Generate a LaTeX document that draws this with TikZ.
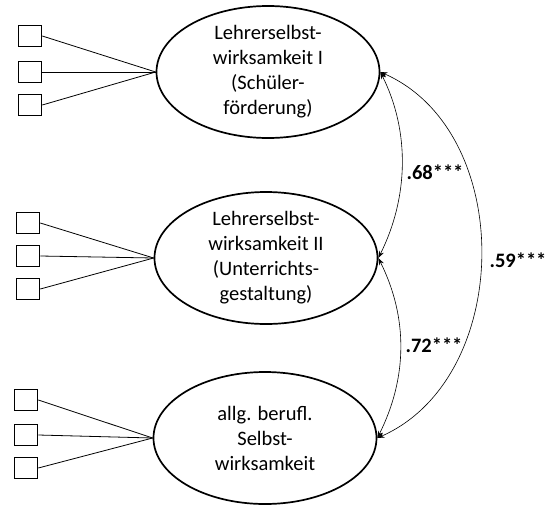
\documentclass[tikz,border=0pt]{standalone}
\usepackage{fontspec}
\setmainfont{Carlito}
\usetikzlibrary{arrows.meta,positioning,shapes.geometric}

\begin{document}
\begin{tikzpicture}[x=1pt,y=-1pt,
    latent/.style={ellipse,draw,line width=1.7pt,minimum width=223pt,minimum height=132pt,inner sep=0pt,align=center,font=\fontsize{20.5}{25}\selectfont},
    item/.style={rectangle,draw,line width=1.6pt,minimum width=23pt,minimum height=21pt,inner sep=0pt},
    load/.style={line width=0.8pt},
    corr/.style={<->,>={Stealth[length=7pt,width=5pt]},line width=0.6pt},
    coef/.style={font=\fontsize{20.5}{24}\selectfont\bfseries}]

  \useasboundingbox (0,0) rectangle (546,504);

  \node[latent] (eins) at (268,72) {Lehrerselbst-\\wirksamkeit I\\(Schüler-\\förderung)};
  \node[latent] (zwei) at (266,258) {Lehrerselbst-\\wirksamkeit II\\(Unterrichts-\\gestaltung)};
  \node[latent] (drei) at (265,438) {allg. berufl.\\Selbst-\\wirksamkeit};

  \node[item] (einsA) at (30,36)  {};
  \node[item] (einsB) at (30,72)  {};
  \node[item] (einsC) at (30,105) {};
  \node[item] (zweiA) at (28,223) {};
  \node[item] (zweiB) at (28,256) {};
  \node[item] (zweiC) at (28,289) {};
  \node[item] (dreiA) at (26,400) {};
  \node[item] (dreiB) at (26,435) {};
  \node[item] (dreiC) at (26,468) {};

  \draw[load] (einsA.east) -- (eins.west);
  \draw[load] (einsB.east) -- (eins.west);
  \draw[load] (einsC.east) -- (eins.west);
  \draw[load] (zweiA.east) -- (zwei.west);
  \draw[load] (zweiB.east) -- (zwei.west);
  \draw[load] (zweiC.east) -- (zwei.west);
  \draw[load] (dreiA.east) -- (drei.west);
  \draw[load] (dreiB.east) -- (drei.west);
  \draw[load] (dreiC.east) -- (drei.west);

  % correlations
  \draw[corr] (eins.east) .. controls +(30,60) and +(30,-60) .. (zwei.east);
  \draw[corr] (zwei.east) .. controls +(30,60) and +(30,-60) .. (drei.east);
  \draw[corr] (eins.east) .. controls +(136,60) and +(136,-60) .. (drei.east);

  \node[coef] (rA) at (435,172) {.68***};
  \node[coef] (rB) at (434,345) {.72***};
  \node[coef] (rC) at (518,260) {.59***};

\end{tikzpicture}
\end{document}
